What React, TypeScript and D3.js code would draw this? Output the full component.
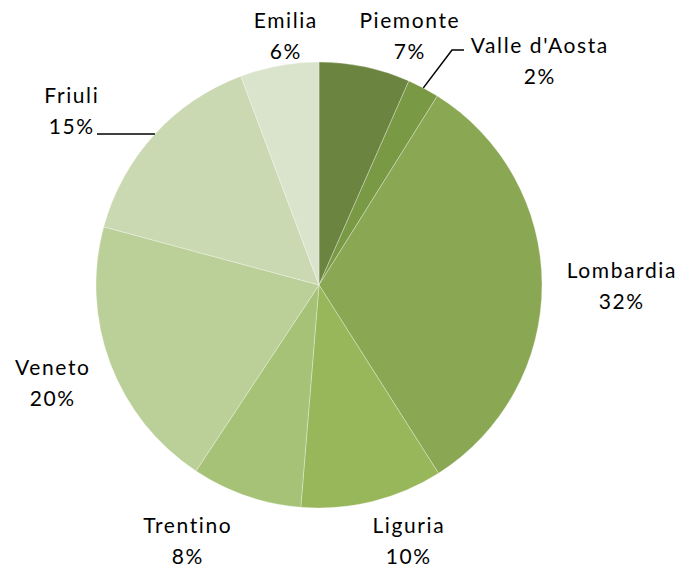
import React from "react";
import * as d3 from "d3";

const regions = ["Piemonte", "Valle d'Aosta", "Lombardia", "Liguria", "Trentino", "Veneto", "Friuli", "Emilia"];
const shares = [6.6, 2.3, 32.1, 10.3, 8.0, 19.9, 15.1, 5.7];
const colors = ["#6b843f", "#7a9945", "#8aa753", "#98b65a", "#a6c276", "#bbd098", "#cbd9b2", "#dae4cc"];

// label layout (center x, first baseline y)
const labelLayout: Record<string, [number, number]> = {
  "Piemonte": [409, 28],
  "Valle d'Aosta": [539, 53],
  "Lombardia": [621, 278],
  "Liguria": [408, 533],
  "Trentino": [187, 533],
  "Veneto": [52, 375],
  "Friuli": [71, 103],
  "Emilia": [285, 28],
};

const W = 686, H = 569;
const cx = 319, cy = 285, R = 223;

export default function App() {
  const pie = d3.pie<number>().sort(null).value((d) => d);
  const arcs = pie(shares);
  const arc = d3.arc<d3.PieArcDatum<number>>().innerRadius(0).outerRadius(R);
  const fmt = (v: number) => `${Math.round(v)}%`;

  const valle = arcs[1];
  const vAng = (valle.startAngle + valle.endAngle) / 2;
  const vEdge: [number, number] = [cx + R * Math.sin(vAng), cy - R * Math.cos(vAng)];
  const fEdgeY = 134;
  const fEdgeX = cx - Math.sqrt(R * R - (fEdgeY - cy) * (fEdgeY - cy));

  return (
    <svg width={W} height={H} style={{ position: "absolute", left: 0, top: 0, background: "#fff" }}>
      <g transform={`translate(${cx},${cy})`}>
        {arcs.map((a, i) => (
          <path key={regions[i]} d={arc(a) || ""} fill={colors[i]} stroke="#ffffff" strokeWidth={0.5} strokeOpacity={0.6} />
        ))}
      </g>
      <polyline
        points={`${vEdge[0]},${vEdge[1]} 452,50 464,50`}
        fill="none" stroke="#000" strokeWidth={1.5}
      />
      <line x1={97} y1={134} x2={fEdgeX} y2={134} stroke="#000" strokeWidth={1.5} />
      {regions.map((r, i) => {
        const [x, y] = labelLayout[r];
        return (
          <text key={r} x={x} y={y} textAnchor="middle" fontFamily="Lato, 'Open Sans', sans-serif" fontSize={21} fill="#000" letterSpacing={1.6}>
            <tspan x={x + 0.8} y={y}>{r}</tspan>
            <tspan x={x + 0.8} y={y + 31}>{fmt(shares[i])}</tspan>
          </text>
        );
      })}
    </svg>
  );
}
